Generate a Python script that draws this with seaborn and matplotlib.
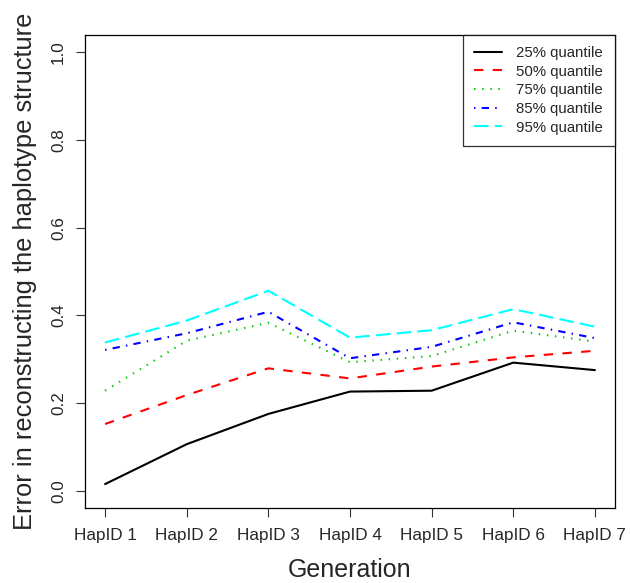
import matplotlib
matplotlib.use("Agg")
import matplotlib.pyplot as plt
import seaborn as sns
import pandas as pd

# Reconstruction error per haplotype ID, for several quantiles
haplotypes = ["HapID 1", "HapID 2", "HapID 3", "HapID 4", "HapID 5", "HapID 6", "HapID 7"]
q25 = [0.015, 0.106, 0.175, 0.226, 0.228, 0.292, 0.275]
q50 = [0.152, 0.218, 0.279, 0.256, 0.283, 0.304, 0.319]
q75 = [0.228, 0.342, 0.383, 0.293, 0.307, 0.365, 0.340]
q85 = [0.321, 0.359, 0.408, 0.302, 0.328, 0.384, 0.348]
q95 = [0.338, 0.388, 0.456, 0.349, 0.366, 0.414, 0.374]
series_names = ["25% quantile", "50% quantile", "75% quantile", "85% quantile", "95% quantile"]
y_ticks = [0.0, 0.2, 0.4, 0.6, 0.8, 1.0]

sns.set_style("ticks")
plt.rcParams["font.family"] = ["Liberation Sans", "DejaVu Sans"]

colors = ["black", "#FF0000", "#00CD00", "#0000FF", "#00FFFF"]
dash_styles = [(None, None), (4.5, 4.5), (0.7, 3.2), (0.7, 3.0, 3.5, 3.0), (7.0, 3.0)]

rows = []
for name, vals in zip(series_names, [q25, q50, q75, q85, q95]):
    for i, v in enumerate(vals):
        rows.append({"pos": i + 1, "value": v, "series": name})
df = pd.DataFrame(rows)

fig = plt.figure(figsize=(6.30, 5.83), dpi=100)
ax = fig.add_axes([0.1357, 0.1283, 0.9754 - 0.1357, 0.9405 - 0.1283])

for name, col, ds in zip(series_names, colors, dash_styles):
    sub = df[df["series"] == name]
    sns.lineplot(data=sub, x="pos", y="value", ax=ax, color=col, linewidth=1.5,
                 label=name, errorbar=None)
    line = ax.get_lines()[-1]
    if ds[0] is not None:
        line.set_dashes(ds)

ax.set_xlim(0.76, 7.24)
ax.set_ylim(-0.04, 1.04)
ax.set_xticks(range(1, len(haplotypes) + 1))
ax.set_xticklabels(haplotypes, fontsize=12.3)
ax.set_yticks(y_ticks)
ax.set_yticklabels([f"{t:.1f}" for t in y_ticks], fontsize=12.3, rotation=90, va="center")
ax.tick_params(axis="both", length=6.5, width=0.8, color="#333333", pad=7.5)
for s in ax.spines.values():
    s.set_visible(True)
    s.set_color("black")
    s.set_linewidth(0.9)

ax.set_xlabel("Generation", fontsize=18, labelpad=11)
ax.set_ylabel("Error in reconstructing the haplotype structure", fontsize=18.4, labelpad=10)

leg = ax.legend(loc="upper right", borderaxespad=0, fontsize=10.8, frameon=True,
                fancybox=False, edgecolor="black", handlelength=1.87, handletextpad=0.95,
                labelspacing=0.31, borderpad=0.75)
leg.get_frame().set_linewidth(0.9)

fig.savefig("out.png", dpi=100)
